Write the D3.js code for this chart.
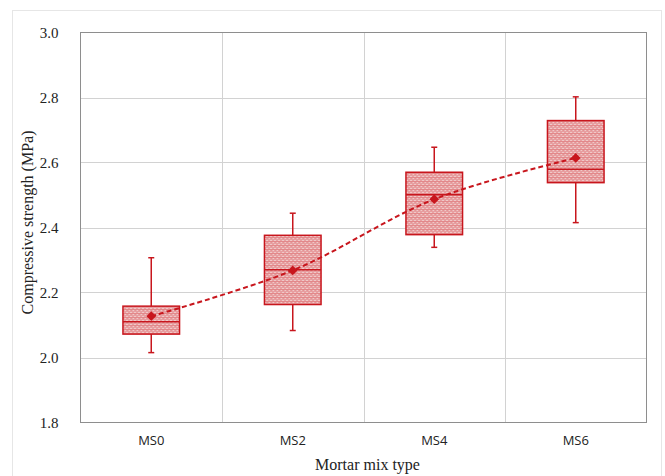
<!DOCTYPE html>
<html>
<head>
<meta charset="utf-8">
<script src="https://cdn.jsdelivr.net/npm/d3@7"></script>
<style>
  html, body { margin: 0; padding: 0; background: #fff; }
  svg { display: block; }
</style>
</head>
<body>
<svg id="chart" width="665" height="476"></svg>
<script>
// Compressive strength of mortar mixes: box-and-whisker summary per mix
const categories   = ["MS0", "MS2", "MS4", "MS6"];
const whiskerLow   = [2.015, 2.083, 2.339, 2.415];
const quartile1    = [2.072, 2.163, 2.378, 2.538];
const medianValues = [2.110, 2.270, 2.501, 2.579];
const quartile3    = [2.158, 2.376, 2.570, 2.729];
const whiskerHigh  = [2.307, 2.444, 2.647, 2.802];
const meanValues   = [2.127, 2.268, 2.487, 2.614];
const yTicks       = [1.8, 2.0, 2.2, 2.4, 2.6, 2.8, 3.0];

const red = "#c8161d";
const serif = "'Liberation Serif', serif";
const sans = "'Open Sans', 'Noto Sans', sans-serif";

const svg = d3.select("#chart");
const plot = { left: 80.5, right: 646.5, top: 32.5, bottom: 422.5 };

// Outer frame
svg.append("rect")
  .attr("x", 12.5).attr("y", 10.5)
  .attr("width", 649).attr("height", 480)
  .attr("fill", "#fff").attr("stroke", "#e6e6e6").attr("stroke-width", 1);

const x = d3.scaleBand().domain(categories).range([plot.left, plot.right]).paddingInner(0).paddingOuter(0);
const y = d3.scaleLinear().domain([1.8, 3.0]).range([plot.bottom, plot.top]);

// Fine wave hatch fill for the boxes (two offset wave rows per tile)
const defs = svg.append("defs");
const pat = defs.append("pattern")
  .attr("id", "wave").attr("patternUnits", "userSpaceOnUse")
  .attr("width", 4).attr("height", 4);
pat.append("rect").attr("width", 4).attr("height", 4).attr("fill", "#f0c8c8");
pat.append("path")
  .attr("d", "M0,1.5 Q1,0 2,1.5 T4,1.5")
  .attr("fill", "none").attr("stroke", "#d5484d").attr("stroke-width", 0.8);
pat.append("path")
  .attr("d", "M-1,3.5 Q0,2 1,3.5 T3,3.5 T5,3.5")
  .attr("fill", "none").attr("stroke", "#de7378").attr("stroke-width", 0.8);

// Gridlines
const g = svg.append("g");
g.selectAll("line.hgrid").data(yTicks.slice(1, -1)).join("line")
  .attr("x1", plot.left).attr("x2", plot.right)
  .attr("y1", d => Math.round(y(d)) + 0.5).attr("y2", d => Math.round(y(d)) + 0.5)
  .attr("stroke", "#d2d2d2").attr("stroke-width", 1);
g.selectAll("line.vgrid").data(categories.slice(1)).join("line")
  .attr("x1", d => Math.round(x(d)) + 0.5).attr("x2", d => Math.round(x(d)) + 0.5)
  .attr("y1", plot.top).attr("y2", plot.bottom)
  .attr("stroke", "#d2d2d2").attr("stroke-width", 1);

// Plot border
svg.append("rect")
  .attr("x", plot.left).attr("y", plot.top)
  .attr("width", plot.right - plot.left).attr("height", plot.bottom - plot.top)
  .attr("fill", "none").attr("stroke", "#8e8e8e").attr("stroke-width", 1);

// Y axis tick labels
const yAxis = d3.axisLeft(y).tickValues(yTicks).tickFormat(d3.format(".1f")).tickSize(0).tickPadding(22);
const ya = svg.append("g").attr("transform", `translate(${plot.left},0)`).call(yAxis);
ya.select(".domain").remove();
ya.selectAll("text").attr("font-family", serif).attr("font-size", 15).attr("fill", "#222");

// X axis category labels
const xAxis = d3.axisBottom(x).tickSize(0).tickPadding(13);
const xa = svg.append("g").attr("transform", `translate(0,${plot.bottom})`).call(xAxis);
xa.select(".domain").remove();
xa.selectAll("text").attr("font-family", sans).attr("font-size", 13).attr("fill", "#222");

// Axis titles
svg.append("text")
  .attr("transform", `translate(29,${(plot.top + plot.bottom) / 2 - 5}) rotate(-90)`)
  .attr("text-anchor", "middle").attr("dominant-baseline", "middle")
  .attr("font-family", serif).attr("font-size", 16).attr("fill", "#222")
  .text("Compressive strength (MPa)");
svg.append("text")
  .attr("x", (plot.left + plot.right) / 2 + 4).attr("y", 466)
  .attr("text-anchor", "middle").attr("dominant-baseline", "middle")
  .attr("font-family", serif).attr("font-size", 16).attr("fill", "#222")
  .text("Mortar mix type");

// Boxes
const boxW = x.bandwidth() * 0.4;
const rows = categories.map((c, i) => ({
  c, lo: whiskerLow[i], q1: quartile1[i], med: medianValues[i],
  q3: quartile3[i], hi: whiskerHigh[i], mean: meanValues[i]
}));
const cx = d => x(d.c) + x.bandwidth() / 2;

const boxes = svg.append("g").selectAll("g").data(rows).join("g");
boxes.append("line")
  .attr("x1", cx).attr("x2", cx).attr("y1", d => y(d.q3)).attr("y2", d => y(d.hi))
  .attr("stroke", red).attr("stroke-width", 1.5);
boxes.append("line")
  .attr("x1", cx).attr("x2", cx).attr("y1", d => y(d.q1)).attr("y2", d => y(d.lo))
  .attr("stroke", red).attr("stroke-width", 1.5);
boxes.append("line")
  .attr("x1", d => cx(d) - 3).attr("x2", d => cx(d) + 3).attr("y1", d => y(d.hi)).attr("y2", d => y(d.hi))
  .attr("stroke", red).attr("stroke-width", 1.5);
boxes.append("line")
  .attr("x1", d => cx(d) - 3).attr("x2", d => cx(d) + 3).attr("y1", d => y(d.lo)).attr("y2", d => y(d.lo))
  .attr("stroke", red).attr("stroke-width", 1.5);
boxes.append("rect")
  .attr("x", d => cx(d) - boxW / 2).attr("width", boxW)
  .attr("y", d => y(d.q3)).attr("height", d => y(d.q1) - y(d.q3))
  .attr("fill", "url(#wave)").attr("stroke", red).attr("stroke-width", 1.5);
boxes.append("line")
  .attr("x1", d => cx(d) - boxW / 2).attr("x2", d => cx(d) + boxW / 2)
  .attr("y1", d => y(d.med)).attr("y2", d => y(d.med))
  .attr("stroke", red).attr("stroke-width", 1.5);

// Smoothed dashed line through the means
const line = d3.line().x(cx).y(d => y(d.mean)).curve(d3.curveCatmullRom.alpha(0.5));
svg.append("path").datum(rows)
  .attr("d", line).attr("fill", "none")
  .attr("stroke", red).attr("stroke-width", 2).attr("stroke-dasharray", "5,3");

// Mean markers
svg.append("g").selectAll("path").data(rows).join("path")
  .attr("transform", d => `translate(${cx(d)},${y(d.mean)})`)
  .attr("d", d3.symbol(d3.symbolDiamond2, 60)())
  .attr("fill", red);
</script>
</body>
</html>
